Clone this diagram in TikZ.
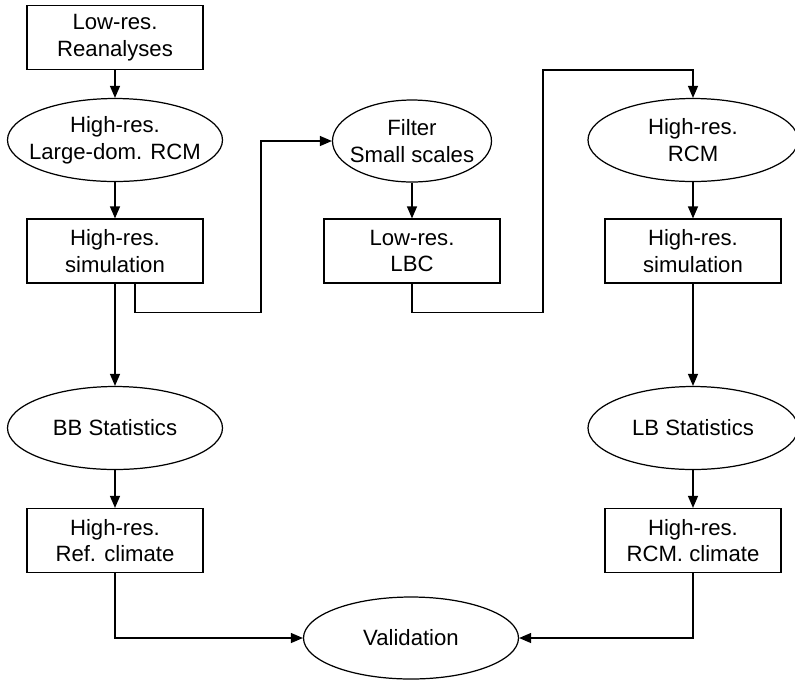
\documentclass[tikz,border=0pt]{standalone}
\usepackage{fontspec}
\setmainfont{Liberation Sans}
\usepackage{tikz}
\usetikzlibrary{positioning, shapes.geometric, arrows.meta}

\begin{document}
\begin{tikzpicture}[
    >={Triangle[length=2.4mm, width=2mm]},
    line width=0.7pt,
    font=\fontsize{12.6}{15.2}\selectfont,
    box/.style={draw, rectangle, minimum width=3.52cm, minimum height=1.28cm, align=center, inner sep=0pt},
    oval/.style={draw, ellipse, minimum width=4.3cm, minimum height=1.66cm, align=center, inner ysep=0pt, inner xsep=-4mm}
]
    \useasboundingbox (0,0) rectangle (15.9,-13.64);

    % Left column: big-brother run
    \node[box] (rean) at (2.3,-0.75) {Low-res.\\Reanalyses};
    \node[oval] (lrcm) at (2.3,-2.8) {High-res.\\Large-dom. RCM};
    \node[box] (lsim) at (2.3,-5.02) {High-res.\\simulation};
    \node[oval] (bbstat) at (2.3,-8.56) {BB Statistics};
    \node[box] (refclim) at (2.3,-10.81) {High-res.\\Ref. climate};

    % Middle column: filtering
    \node[oval, minimum width=3.18cm, minimum height=1.64cm] (filter) at (8.24,-2.82) {Filter\\Small scales};
    \node[box] (lbc) at (8.24,-5.02) {Low-res.\\LBC};

    % Right column: little-brother run
    \node[oval, minimum width=4.2cm] (rrcm) at (13.86,-2.8) {High-res.\\RCM};
    \node[box] (rsim) at (13.86,-5.02) {High-res.\\simulation};
    \node[oval, minimum width=4.2cm] (lbstat) at (13.86,-8.56) {LB Statistics};
    \node[box] (rcmclim) at (13.86,-10.81) {High-res.\\RCM. climate};

    \node[oval, minimum height=1.64cm] (valid) at (8.22,-12.76) {Validation};

    \coordinate (turn) at (10.86,-1.4);

    \draw[->] (rean) -- (lrcm);
    \draw[->] (lrcm) -- (lsim);
    \draw[->] (lsim) -- (bbstat);
    \draw[->] (bbstat) -- (refclim);
    \draw[->] (filter) -- (lbc);
    \draw[->] (rrcm) -- (rsim);
    \draw[->] (rsim) -- (lbstat);
    \draw[->] (lbstat) -- (rcmclim);

    \draw[->] ([xshift=4mm]lsim.south) -- ++(0,-0.58) -| ([xshift=-1.42cm]filter.west) -- (filter.west);
    \draw[->] (lbc.south) -- ++(0,-0.58) -| (turn) -| (rrcm.north);

    \draw[->] (refclim.south) |- (valid.west);
    \draw[->] (rcmclim.south) |- (valid.east);
\end{tikzpicture}
\end{document}
